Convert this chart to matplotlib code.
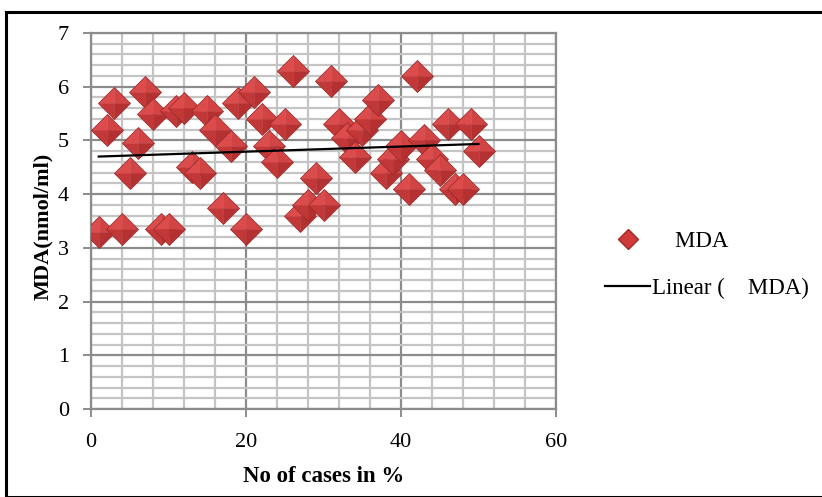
import numpy as np
import matplotlib
matplotlib.use("Agg")
import matplotlib.pyplot as plt
from matplotlib.lines import Line2D
from matplotlib.patches import Rectangle
from matplotlib.path import Path
from matplotlib.ticker import MultipleLocator

plt.rcParams['font.family'] = ['Liberation Serif', 'DejaVu Serif']

# values
cases = list(range(1, 51))
mda = [3.3, 5.2, 5.7, 3.35, 4.4, 4.95, 5.9, 5.5, 3.35, 3.35,
       5.55, 5.6, 4.5, 4.4, 5.55, 5.2, 3.75, 4.9, 5.7, 3.35,
       5.9, 5.4, 4.9, 4.6, 5.3, 6.3, 3.6, 3.8, 4.3, 3.8,
       6.1, 5.3, 5.05, 4.7, 5.2, 5.4, 5.75, 4.4, 4.65, 4.9,
       4.1, 6.2, 5.0, 4.65, 4.45, 5.3, 4.1, 4.1, 5.3, 4.8]
series_name = "    MDA"

fig = plt.figure(figsize=(8.22, 4.97), dpi=100)
ax = fig.add_axes([91 / 822, 1 - 409 / 497, (556 - 91) / 822, (409 - 33) / 497])

ax.set_xlim(0, 60)
ax.set_ylim(0, 7)
ax.xaxis.set_major_locator(MultipleLocator(20))
ax.xaxis.set_minor_locator(MultipleLocator(4))
ax.yaxis.set_major_locator(MultipleLocator(1))
ax.yaxis.set_minor_locator(MultipleLocator(0.2))
ax.grid(which='minor', color='#c4c4c4', lw=1.6)
ax.grid(which='major', color='#8c8c8c', lw=1.6)
ax.set_axisbelow(True)
for s in ax.spines.values():
    s.set_color('#8c8c8c')
    s.set_linewidth(1.6)
ax.tick_params(which='major', length=6, width=1.4, color='#8c8c8c',
               labelsize=16, pad=10)
ax.tick_params(axis='x', which='major', pad=11)
ax.tick_params(which='minor', length=0)

# diamonds with four shaded facets (bevel look)
facets = [
    ([(0, 1), (-1, 0), (0, 0), (0, 1)], '#dc4c4c'),
    ([(0, 1), (1, 0), (0, 0), (0, 1)], '#d24343'),
    ([(0, -1), (-1, 0), (0, 0), (0, -1)], '#c23838'),
    ([(0, -1), (1, 0), (0, 0), (0, -1)], '#b53030'),
]
for i, x in enumerate(cases):
    z = 3 + i * 0.01
    for verts, col in facets:
        ax.plot([x], [mda[i]], ls='none', marker=Path(verts), ms=22.5,
                mfc=col, mec=col, mew=0.3, zorder=z)
    ax.plot([x], [mda[i]], ls='none', marker='D', ms=16, mfc='none',
            mec='#a02a2a', mew=0.6, zorder=z + 0.005)

# linear trendline
k, b = np.polyfit(cases, mda, 1)
xx = np.array([cases[0], cases[-1]])
ax.plot(xx, k * xx + b, color='black', lw=1.6, zorder=4)

ax.set_xlabel("No of cases in %", fontsize=16.5, fontweight='bold', labelpad=10)
ax.set_ylabel("MDA(nmol/ml)", fontsize=16, fontweight='bold')
ax.yaxis.set_label_coords(-0.081, 0.487)

handles = [
    Line2D([], [], ls='none', marker='D', ms=10, mfc='#cf3a3a', mec='#a02a2a'),
    Line2D([], [], color='black', lw=1.6),
]
fig.legend(handles, [series_name, "Linear (" + series_name + ")"],
           loc='center left', bbox_to_anchor=(584 / 822, 1 - 265 / 497),
           frameon=False, fontsize=16.5, handlelength=2.0, handletextpad=0.05,
           labelspacing=1.15)

fig.patches.append(Rectangle((6 / 822, 0), 1, 1 - 12 / 497, transform=fig.transFigure,
                             fill=False, ec='black', lw=2.2))

fig.savefig("out.png", dpi=100)
